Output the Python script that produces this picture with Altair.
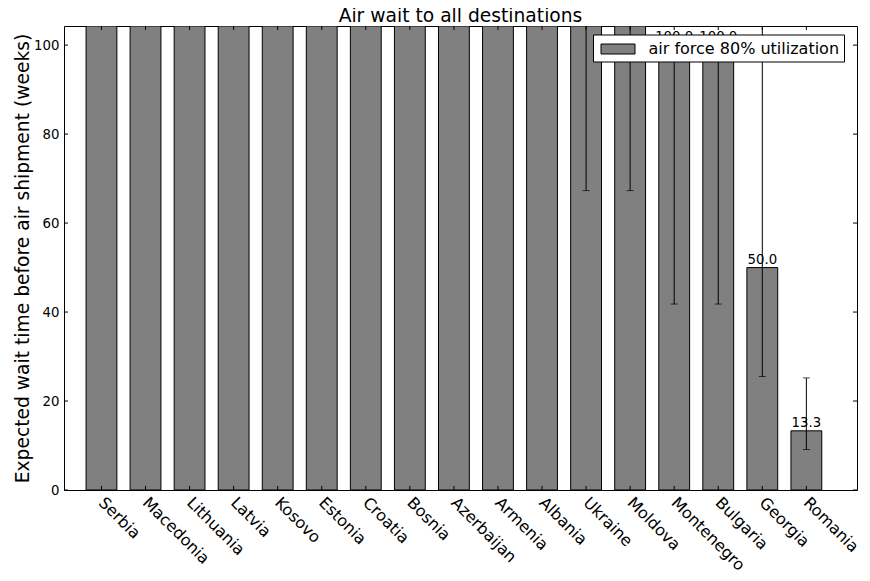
import altair as alt
import pandas as pd

countries = ["Serbia", "Macedonia", "Lithuania", "Latvia", "Kosovo", "Estonia",
             "Croatia", "Bosnia", "Azerbaijan", "Armenia", "Albania", "Ukraine",
             "Moldova", "Montenegro", "Bulgaria", "Georgia", "Romania"]
values = [200, 200, 200, 200, 200, 200, 200, 200, 200, 200, 200,
          150, 150, 100.0, 100.0, 50.0, 13.3]
err_low = [200, 200, 200, 200, 200, 200, 200, 200, 200, 200, 200,
           67.3, 67.3, 41.8, 41.8, 25.5, 9.1]
err_high = [200, 200, 200, 200, 200, 200, 200, 200, 200, 200, 200,
            200, 200, 100.0, 100.0, 200, 25.2]
series_name = ["air force 80% utilization"]
y_ticks = [0, 20, 40, 60, 80, 100]

W, H = 793, 464
Y_MAX = 104.3
FONT = "DejaVu Sans"

df = pd.DataFrame({
    "country": countries,
    "value": values,
    "low": err_low,
    "high": err_high,
    "series": series_name * len(countries),
})
ticks_df = pd.DataFrame({"t": y_ticks})

x_scale = alt.Scale(domain=countries, paddingInner=0.3, paddingOuter=0.65, align=0.385)
x_axis = alt.Axis(title=None, labelAngle=45, labelAlign="left", labelBaseline="top",
                  labelFontSize=16, labelOffset=5.5, labelPadding=4, labelOverlap=False,
                  labelBound=False, labelFlush=False, ticks=False, domain=False,
                  labelColor="black", labelFont=FONT, labelLimit=0)
y_scale = alt.Scale(domain=[0, Y_MAX], nice=False, zero=False, clamp=True)
y_title = "Expected wait time before air shipment (weeks)"
y_axis = alt.Axis(values=y_ticks, title=y_title, labelFontSize=13.3, labelPadding=5,
                  ticks=False, domain=False, grid=False, labelColor="black",
                  labelFont=FONT, titleFont=FONT, titleFontSize=18.7,
                  titleFontWeight="normal", titleColor="black", titleAngle=270,
                  titleX=-36, titleY=H / 2, titleBaseline="alphabetic", titleAlign="center")


def X():
    return alt.X("country:N", sort=countries, scale=x_scale, axis=x_axis)


base = alt.Chart(df)

bars = base.mark_bar(stroke="black", strokeWidth=1, clip=True).encode(
    x=X(),
    y=alt.Y("value:Q", scale=y_scale, axis=y_axis),
    color=alt.Color("series:N", scale=alt.Scale(range=["#808080"]),
                    legend=alt.Legend(
                        title=None, orient="none", legendX=529, legendY=8.5,
                        symbolType="M-0.65,-0.5H2.75V0.5H-0.65Z", symbolSize=400,
                        symbolStrokeColor="black", symbolStrokeWidth=1,
                        symbolFillColor="#808080",
                        labelFontSize=16, labelFont=FONT, labelColor="black",
                        labelOffset=30.5, labelLimit=0, padding=4,
                        fillColor="white", strokeColor="black", cornerRadius=0)),
)

labels = base.transform_filter(f"datum.value <= {Y_MAX}").mark_text(
    baseline="alphabetic", dy=-4, fontSize=13.3, font=FONT, color="black",
    clip=True).encode(
    x=X(),
    y=alt.Y("value:Q", scale=y_scale, axis=y_axis),
    text=alt.Text("value:Q", format=".1f"),
)

err_rule = base.transform_filter(f"datum.low <= {Y_MAX}").mark_rule(
    color="black", strokeWidth=1, clip=True).encode(
    x=X(),
    y=alt.Y("low:Q", scale=y_scale, axis=y_axis),
    y2="high:Q",
)
cap_low = base.transform_filter(f"datum.low <= {Y_MAX}").mark_tick(
    color="black", thickness=1, size=7, orient="horizontal", clip=True).encode(
    x=X(), y=alt.Y("low:Q", scale=y_scale, axis=y_axis))
cap_high = base.transform_filter(f"datum.high <= {Y_MAX}").mark_tick(
    color="black", thickness=1, size=7, orient="horizontal", clip=True).encode(
    x=X(), y=alt.Y("high:Q", scale=y_scale, axis=y_axis))

xt_bottom = base.mark_rule(color="black", strokeWidth=1).encode(
    x=X(), y=alt.value(H), y2=alt.value(H - 4))
xt_top = base.mark_rule(color="black", strokeWidth=1).encode(
    x=X(), y=alt.value(0), y2=alt.value(4))

yt_left = alt.Chart(ticks_df).mark_rule(color="black", strokeWidth=1).encode(
    y=alt.Y("t:Q", scale=y_scale, axis=y_axis), x=alt.value(0), x2=alt.value(4))
yt_right = alt.Chart(ticks_df).mark_rule(color="black", strokeWidth=1).encode(
    y=alt.Y("t:Q", scale=y_scale, axis=y_axis), x=alt.value(W - 4), x2=alt.value(W))

chart = alt.layer(
    bars, err_rule, cap_low, cap_high, xt_bottom, xt_top, yt_left, yt_right, labels
).properties(
    width=W, height=H,
    title=alt.TitleParams("Air wait to all destinations", fontSize=18.7, font=FONT,
                          fontWeight="normal", color="black", anchor="middle",
                          offset=0, frame="group"),
    autosize=alt.AutoSizeParams(type="none"),
    padding={"left": 56, "top": 18, "right": 5, "bottom": 83},
    background="white",
).configure_view(stroke="black", strokeWidth=1)

chart.save("out.html", embed_options={"renderer": "svg", "actions": False})
